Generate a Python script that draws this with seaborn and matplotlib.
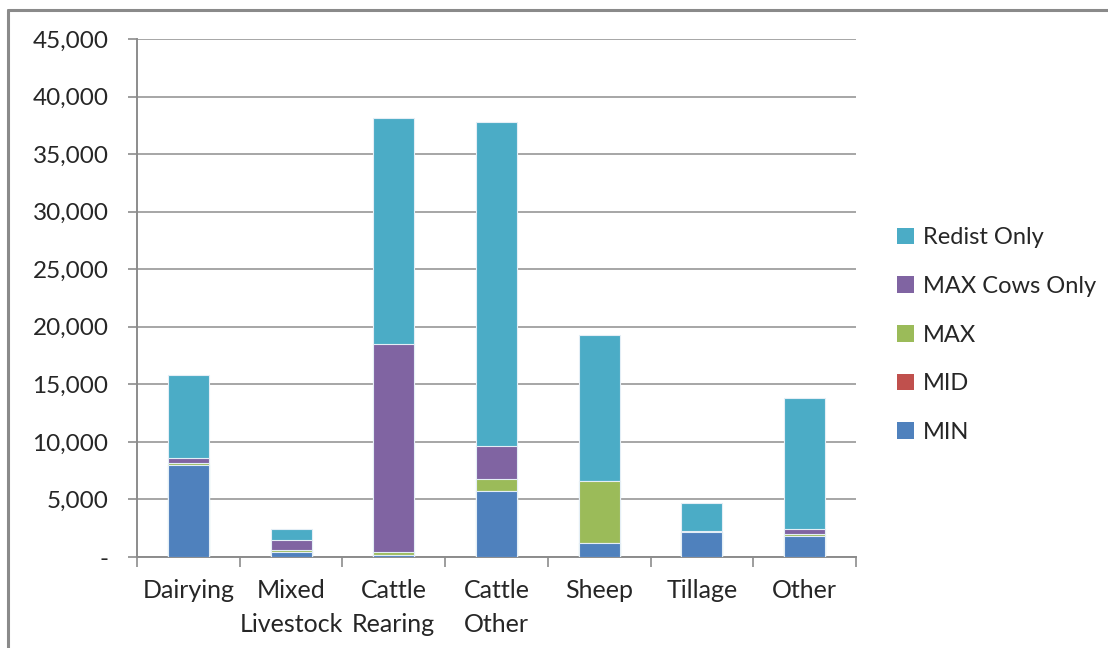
import matplotlib
matplotlib.use("Agg")
import matplotlib.pyplot as plt
from matplotlib.patches import Patch
from matplotlib.lines import Line2D
from matplotlib.ticker import FuncFormatter, MultipleLocator
import seaborn as sns
import pandas as pd
import numpy as np

# Farm systems and component values (stacked bottom to top)
categories = ["Dairying", "Mixed\nLivestock", "Cattle\nRearing", "Cattle\nOther", "Sheep", "Tillage", "Other"]
min_vals = [8000, 450, 150, 5700, 1200, 2200, 1800]
mid_vals = [0, 0, 0, 0, 0, 0, 0]
max_vals = [150, 150, 300, 1100, 5400, 0, 200]
max_cows_only = [450, 880, 18050, 2800, 0, 100, 450]
redist_only = [7200, 980, 19600, 28200, 12700, 2350, 11350]

series_names = ["MIN", "MID", "MAX", "MAX Cows Only", "Redist Only"]
series_vals = [min_vals, mid_vals, max_vals, max_cows_only, redist_only]
series_colors = ["#4F81BD", "#C0504D", "#9BBB59", "#8064A2", "#4BACC6"]

sns.set_theme(style="white")
plt.rcParams["font.family"] = ["Lato", "DejaVu Sans"]
text_color = "#262626"

fig = plt.figure(figsize=(11.08, 6.48), dpi=100)
ax = fig.add_axes([137 / 1108, 91 / 648, (856 - 137) / 1108, (557 - 39) / 648])

cum = np.cumsum(np.array(series_vals, dtype=float), axis=0)
# draw the tallest cumulative layer first so lower segments sit on top
for i in range(len(series_names) - 1, -1, -1):
    df = pd.DataFrame({"category": categories, "value": cum[i]})
    sns.barplot(data=df, x="category", y="value", order=categories,
                color=series_colors[i], saturation=1, width=0.4,
                errorbar=None, ax=ax, edgecolor="#e4eef6", linewidth=0.8,
                zorder=3)

ax.set_ylim(0, 45000)
ax.set_xlim(-0.5, len(categories) - 0.5)
ax.yaxis.set_major_locator(MultipleLocator(5000))
ax.yaxis.set_major_formatter(FuncFormatter(lambda v, p: "-" if v == 0 else f"{int(v):,}"))
ax.grid(axis="y", color="#a6a6a6", linewidth=1.4, zorder=0)
ax.set_axisbelow(True)
ax.set_xlabel("")
ax.set_ylabel("")

for side in ["top", "right"]:
    ax.spines[side].set_visible(False)
for side in ["left", "bottom"]:
    ax.spines[side].set_color("#8c8c8c")
    ax.spines[side].set_linewidth(1.4)

ax.tick_params(axis="y", which="major", direction="out", length=6.5, width=1.2,
               color="#8c8c8c", labelsize=17.5, labelcolor=text_color, pad=14, left=True)
ax.tick_params(axis="x", which="major", length=0, labelsize=18, labelcolor=text_color, pad=16)
ax.set_xticks(range(len(categories)))
ax.set_xticklabels(categories, linespacing=1.55, va="top")
ax.set_xticks(np.arange(-0.5, len(categories), 1.0), minor=True)
ax.tick_params(axis="x", which="minor", direction="out", length=7, width=1.2,
               color="#8c8c8c", bottom=True)

handles = [Patch(facecolor=c, edgecolor="none", label=n)
           for n, c in zip(series_names, series_colors)][::-1]
fig.legend(handles=handles, loc="center left", bbox_to_anchor=(876 / 1108, (648 - 335) / 648),
           frameon=False, fontsize=17, labelcolor=text_color, handlelength=0.7,
           handleheight=0.7, handletextpad=0.4, labelspacing=1.17)

# outer chart frame
fig.add_artist(Line2D([8 / 1108, 1.0], [1 - 10 / 648, 1 - 10 / 648],
                      transform=fig.transFigure, color="#8a8a8a", linewidth=2.2))
fig.add_artist(Line2D([8 / 1108, 8 / 1108], [0, 1 - 10 / 648],
                      transform=fig.transFigure, color="#8a8a8a", linewidth=2.2))

fig.savefig("out.png", dpi=100)
